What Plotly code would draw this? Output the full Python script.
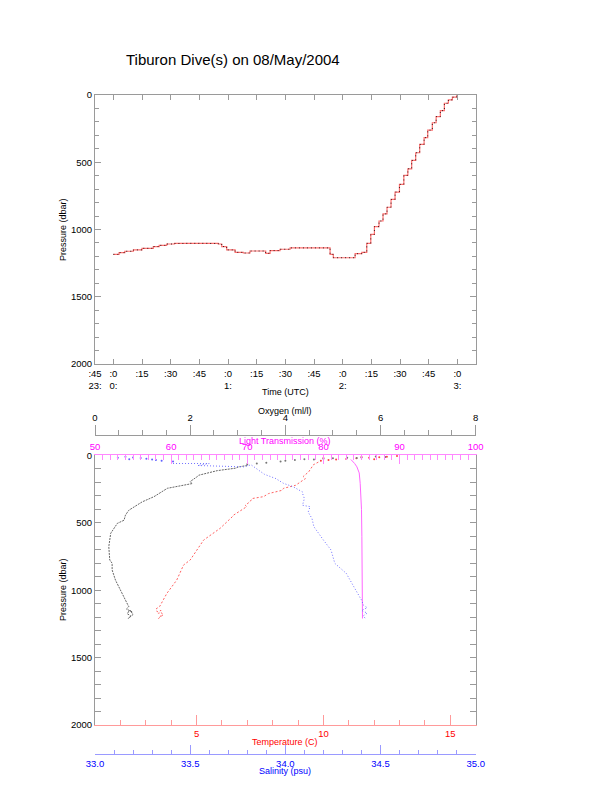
import plotly.graph_objects as go

# ---------------- data: top panel (time in minutes from 00:00 UTC) ----------------
dive_time_min = [0, 3, 6, 10.5, 15, 20.9, 24, 27.9, 32, 36.6, 45, 50, 54.9, 56.7, 59.3,
                 63.7, 68.0, 71.5, 76.8, 79.7, 82.0, 87.2, 92.5, 100, 111.7, 113.4, 115.1,
                 120, 123.9, 126.5, 130, 132.6, 134.7, 136.6, 139.0, 141.1, 143.2, 145.3,
                 147.4, 149.7, 152.0, 154.1, 156.1, 158.2, 160.3, 162.6, 164.5, 166.9,
                 168.9, 171.1, 173.2, 175.3, 177.4, 179.7, 180.3]
dive_pressure = [1185, 1172, 1162, 1152, 1140, 1127, 1118, 1108, 1104, 1103, 1103, 1104,
                 1108, 1127, 1152, 1170, 1175, 1160, 1160, 1177, 1157, 1147, 1137, 1137,
                 1137, 1185, 1210, 1210, 1210, 1180, 1170, 1103, 1037, 979, 937, 884, 835,
                 777, 722, 665, 598, 549, 487, 430, 368, 318, 262, 207, 161, 117, 62, 37,
                 17, 3, 3]

time_tickvals = [-9.6, 0, 15, 30, 45, 60, 75, 90, 105, 120, 135, 150, 165, 180]
time_ticktext = [":45<br>23:", ":0<br>0:", ":15", ":30", ":45", ":0<br>1:", ":15", ":30",
                 ":45", ":0<br>2:", ":15", ":30", ":45", ":0<br>3:"]

# ---------------- data: bottom panel (profiles) ----------------
# near-surface scatter
oxy_surf_p = [8, 12, 15, 18, 22, 25, 30, 20, 28, 35, 40, 45, 55, 60, 65]
oxy_surf_val = [5.9, 6.1, 5.6, 5.3, 5.0, 4.8, 4.6, 5.5, 4.4, 4.2, 4.0, 3.9, 3.6, 3.4, 3.2]
oxy_p = [75, 85, 95, 113, 147, 157, 194, 209, 244, 271, 306, 345, 393, 407, 443, 481, 504,
         578, 677, 776, 800, 850, 925, 999, 1073, 1123, 1140, 1160, 1150, 1175, 1190, 1210,
         1180, 1150]
oxy_val = [3.2, 3.02, 2.95, 2.57, 2.18, 2.15, 2.0, 2.04, 1.52, 1.41, 1.24, 0.99, 0.75, 0.71,
           0.64, 0.61, 0.47, 0.33, 0.29, 0.31, 0.36, 0.36, 0.43, 0.54, 0.64, 0.71, 0.66,
           0.78, 0.72, 0.68, 0.75, 0.70, 0.80, 0.74]

temp_surf_p = [5, 10, 14, 18, 22, 26, 30, 35, 40, 12, 20, 28]
temp_surf_val = [12.9, 12.5, 12.2, 11.8, 11.3, 10.9, 10.5, 10.2, 9.9, 11.5, 10.0, 12.0]
temp_p = [50, 70, 85, 122, 157, 172, 222, 244, 259, 283, 306, 320, 343, 370, 380, 443, 457,
          541, 628, 702, 776, 813, 925, 1024, 1073, 1100, 1120, 1140, 1160, 1150, 1170,
          1190, 1210, 1180, 1160]
temp_val = [9.8, 9.6, 9.55, 9.42, 9.2, 9.29, 8.9, 8.43, 8.37, 7.84, 7.64, 7.19, 7.11, 6.92,
            6.98, 6.46, 6.40, 5.93, 5.28, 5.01, 4.75, 4.49, 4.22, 3.83, 3.70, 3.62, 3.55,
            3.40, 3.45, 3.60, 3.50, 3.60, 3.50, 3.70, 3.55]

sal_surf_p = [10, 15, 20, 25, 30, 35, 18, 28, 40, 45]
sal_surf_val = [33.16, 33.20, 33.24, 33.27, 33.30, 33.32, 33.12, 33.18, 33.35, 33.41]
sal_p = [60, 60, 75, 85, 70, 135, 140, 172, 207, 222, 232, 271, 281, 320, 370, 380, 420,
         469, 529, 628, 702, 801, 875, 975, 1073, 1110, 1130, 1150, 1170, 1190, 1210]
sal_val = [33.41, 33.60, 33.54, 33.78, 33.82, 33.88, 33.89, 33.95, 33.99, 34.02, 34.04,
           34.09, 34.09, 34.10, 34.09, 34.13, 34.12, 34.14, 34.15, 34.20, 34.24, 34.26,
           34.32, 34.36, 34.40, 34.41, 34.43, 34.40, 34.43, 34.41, 34.42]

lt_p = [30, 45, 60, 85, 130, 207, 400, 600, 800, 1000, 1100, 1150, 1210]
lt_val = [83.6, 83.9, 84.1, 84.4, 84.7, 84.83, 85.0, 85.05, 85.1, 85.12, 85.13, 85.1, 85.13]

sal_tickvals = [33.0, 33.5, 34.0, 34.5, 35.0]
sal_ticktext = ["33.0", "33.5", "34.0", "34.5", "35.0"]

# ---------------- figure ----------------
W, H = 612, 785
FONT = "Liberation Sans, Arial, sans-serif"
GRAY = "#9a9a9a"

def px(x):
    return x / W

def py(y):
    return 1 - y / H

xdom = [px(95), px(475.7)]

fig = go.Figure()

# top panel
fig.add_trace(go.Scatter(x=dive_time_min, y=dive_pressure, mode="lines", line_shape="hv",
                         line=dict(color="#ff7070", width=1.2), xaxis="x", yaxis="y",
                         showlegend=False))
fig.add_trace(go.Scatter(x=dive_time_min, y=dive_pressure, mode="lines", line_shape="hv",
                         line=dict(color="#000000", width=1, dash="1px,3px"), xaxis="x",
                         yaxis="y", opacity=0.8, showlegend=False))

# bottom panel
fig.add_trace(go.Scatter(x=oxy_surf_val, y=oxy_surf_p, mode="markers",
                         marker=dict(color="#777777", size=2), xaxis="x2", yaxis="y2",
                         showlegend=False))
fig.add_trace(go.Scatter(x=oxy_val, y=oxy_p, mode="lines",
                         line=dict(color="#666666", width=1, dash="2px,1px"),
                         xaxis="x2", yaxis="y2", showlegend=False))
fig.add_trace(go.Scatter(x=lt_val, y=lt_p, mode="lines", line=dict(color="#ff66ff", width=1),
                         xaxis="x3", yaxis="y2", showlegend=False))
fig.add_trace(go.Scatter(x=temp_surf_val, y=temp_surf_p, mode="markers",
                         marker=dict(color="#ff4040", size=2), xaxis="x4", yaxis="y2",
                         showlegend=False))
fig.add_trace(go.Scatter(x=temp_val, y=temp_p, mode="lines",
                         line=dict(color="#ff6060", width=1, dash="2px,2px"),
                         xaxis="x4", yaxis="y2", showlegend=False))
fig.add_trace(go.Scatter(x=sal_surf_val, y=sal_surf_p, mode="markers",
                         marker=dict(color="#6060ff", size=2), xaxis="x5", yaxis="y2",
                         showlegend=False))
fig.add_trace(go.Scatter(x=sal_val, y=sal_p, mode="lines",
                         line=dict(color="#7070ff", width=1, dash="1px,2px"),
                         xaxis="x5", yaxis="y2", showlegend=False))

tickfont = dict(family=FONT, size=9.5, color="black")

fig.update_layout(
    width=W, height=H, autosize=False,
    margin=dict(l=0, r=0, t=0, b=0, pad=0),
    paper_bgcolor="white", plot_bgcolor="white",
    font=dict(family=FONT, size=9.5, color="black"),
    xaxis=dict(domain=xdom, anchor="y", range=[-9.6, 189.6], tickmode="array",
               tickvals=time_tickvals, ticktext=time_ticktext, ticks="inside", ticklen=5,
               tickcolor=GRAY, showline=True, linecolor=GRAY, linewidth=1,
               mirror="allticks", showgrid=False, zeroline=False, tickfont=tickfont,
               automargin=False),
    yaxis=dict(domain=[py(364.3), py(94.5)], anchor="x", range=[2002, -3],
               tickvals=[0, 500, 1000, 1500, 2000], ticks="inside", ticklen=6,
               tickcolor=GRAY, minor=dict(dtick=100, tick0=0, ticks="inside", ticklen=4,
                                          tickcolor=GRAY, showgrid=False),
               showline=True, linecolor=GRAY, mirror="allticks", showgrid=False,
               zeroline=False, tickfont=tickfont, automargin=False),
    xaxis4=dict(domain=xdom, anchor="y2", side="bottom", range=[1, 16],
                tickvals=[5, 10, 15], ticks="inside", ticklen=10, tickcolor="#ff9a9a",
                minor=dict(dtick=1, tick0=0, ticks="inside", ticklen=5, tickcolor="#ff9a9a",
                           showgrid=False),
                showline=True, linecolor="#ff9a9a", showgrid=False, zeroline=False,
                tickfont=dict(family=FONT, size=9.5, color="#ff0000"), automargin=False),
    xaxis2=dict(overlaying="x4", anchor="free", position=py(435), side="top", range=[0, 8],
                tickvals=[0, 2, 4, 6, 8], ticks="outside", ticklen=10, tickcolor=GRAY,
                minor=dict(dtick=0.5, tick0=0, ticks="outside", ticklen=5, tickcolor=GRAY,
                           showgrid=False),
                showline=True, linecolor=GRAY, showgrid=False, zeroline=False,
                tickfont=tickfont, automargin=False),
    xaxis3=dict(overlaying="x4", anchor="y2", side="top", range=[50, 100],
                tickvals=[50, 60, 70, 80, 90, 100], ticks="inside", ticklen=9,
                tickcolor="#ff88ff",
                minor=dict(dtick=1, tick0=0, ticks="inside", ticklen=5, tickcolor="#ff88ff",
                           showgrid=False),
                showline=True, linecolor="#ff88ff", showgrid=False, zeroline=False,
                tickfont=dict(family=FONT, size=9.5, color="#ff00ff"), automargin=False),
    xaxis5=dict(overlaying="x4", anchor="free", position=py(754.3), side="bottom",
                range=[33, 35], tickmode="array", tickvals=sal_tickvals,
                ticktext=sal_ticktext, ticks="inside", ticklen=9, tickcolor="#9a9aff",
                minor=dict(dtick=0.1, tick0=33, ticks="inside", ticklen=4,
                           tickcolor="#9a9aff", showgrid=False),
                showline=True, linecolor="#9a9aff", showgrid=False, zeroline=False,
                tickfont=dict(family=FONT, size=9.5, color="#0000ff"), automargin=False),
    yaxis2=dict(domain=[py(725), py(455)], anchor="x4", range=[2000, -3],
                tickvals=[0, 500, 1000, 1500, 2000], ticks="inside", ticklen=6,
                tickcolor=GRAY, minor=dict(dtick=100, tick0=0, ticks="inside", ticklen=4,
                                           tickcolor=GRAY, showgrid=False),
                showline=True, linecolor=GRAY, mirror="allticks", showgrid=False,
                zeroline=False, tickfont=tickfont, automargin=False),
)

def label(text, x, y, color="black", size=9, angle=0):
    fig.add_annotation(text=text, x=px(x), y=py(y), xref="paper", yref="paper",
                       xanchor="center", yanchor="middle", showarrow=False,
                       textangle=angle, font=dict(family=FONT, size=size, color=color))

label("Tiburon Dive(s) on 08/May/2004", 232.5, 60, size=15)
label("Pressure (dbar)", 63, 230, angle=-90)
label("Time (UTC)", 285, 392)
label("Pressure (dbar)", 63, 590, angle=-90)
label("Oxygen (ml/l)", 285, 411)
label("Light Transmission (%)", 285, 441, color="#ff00ff")
label("Temperature (C)", 285, 742, color="#ff0000")
label("Salinity (psu)", 285, 771, color="#0000ff")

fig.write_html("out.html", config={"displayModeBar": False},
               post_script="document.body.style.margin='0';"
                           "document.body.style.overflow='hidden';")
